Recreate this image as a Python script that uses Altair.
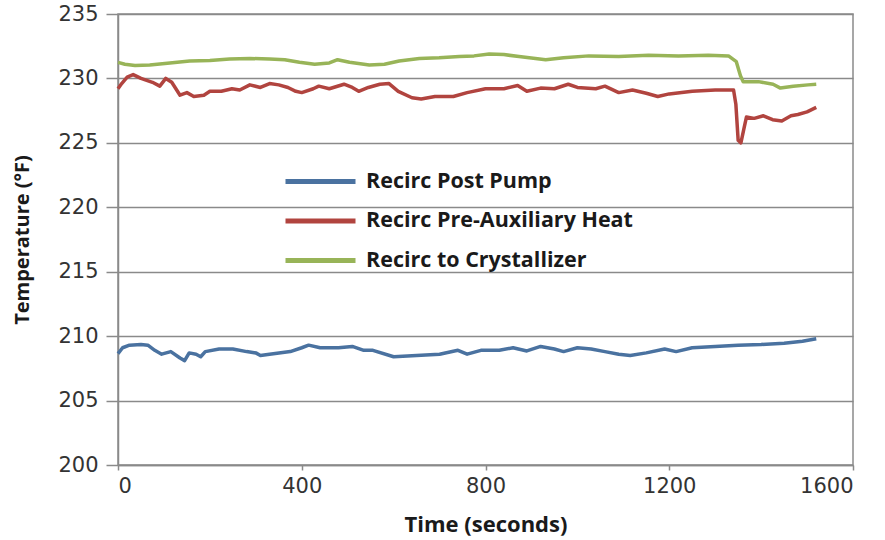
import altair as alt
import pandas as pd

series_names = ["Recirc Post Pump", "Recirc Pre-Auxiliary Heat", "Recirc to Crystallizer"]
series_colors = ["#4A72A0", "#B1443F", "#98B458"]

post_pump_t = [0, 10, 25, 50, 65, 80, 95, 115, 135, 145, 155, 170, 180, 190, 220, 250, 280, 300, 310, 330,
               375, 400, 415, 440, 480, 510, 535, 555, 600, 650, 700, 740, 760, 790, 830, 860, 890, 920, 950,
               970, 1000, 1030, 1060, 1090, 1115, 1150, 1190, 1215, 1250, 1300, 1350, 1400, 1450, 1490, 1520]
post_pump_v = [208.65, 209.1, 209.3, 209.35, 209.3, 208.9, 208.6, 208.8, 208.3, 208.1, 208.7, 208.6, 208.4,
               208.8, 209.0, 209.0, 208.8, 208.7, 208.5, 208.6, 208.8, 209.1, 209.3, 209.1, 209.1, 209.2,
               208.9, 208.9, 208.4, 208.5, 208.6, 208.9, 208.6, 208.9, 208.9, 209.1, 208.85, 209.2, 209.0,
               208.8, 209.1, 209.0, 208.8, 208.6, 208.5, 208.7, 209.0, 208.8, 209.1, 209.2, 209.3, 209.35,
               209.45, 209.6, 209.8]

pre_aux_t = [0, 8, 20, 33, 50, 75, 91, 104, 117, 135, 150, 165, 187, 200, 225, 248, 265, 287, 310, 330, 350,
             370, 387, 400, 425, 437, 460, 492, 510, 524, 545, 570, 590, 610, 640, 660, 690, 730, 760, 800,
             840, 870, 890, 920, 950, 980, 1000, 1040, 1060, 1090, 1120, 1150, 1175, 1200, 1250, 1300, 1340,
             1345, 1350, 1356, 1362, 1368, 1385, 1405, 1425, 1445, 1465, 1480, 1500, 1520]
pre_aux_v = [229.2, 229.6, 230.1, 230.3, 230.0, 229.7, 229.4, 230.0, 229.7, 228.7, 228.9, 228.6, 228.7, 229.0,
             229.0, 229.2, 229.1, 229.5, 229.3, 229.6, 229.5, 229.3, 229.0, 228.9, 229.2, 229.4, 229.2,
             229.55, 229.3, 229.0, 229.3, 229.55, 229.6, 229.0, 228.5, 228.4, 228.6, 228.6, 228.9, 229.2,
             229.2, 229.45, 229.0, 229.25, 229.2, 229.55, 229.3, 229.2, 229.4, 228.9, 229.1, 228.85, 228.6,
             228.8, 229.0, 229.1, 229.1, 228.0, 225.2, 225.0, 226.0, 227.0, 226.9, 227.1, 226.8, 226.7,
             227.1, 227.2, 227.4, 227.75]

cryst_t = [0, 15, 37, 69, 113, 156, 200, 243, 287, 330, 363, 395, 428, 460, 478, 504, 547, 580, 612, 656, 699,
           743, 775, 808, 840, 873, 931, 970, 1025, 1090, 1155, 1220, 1285, 1329, 1346, 1355, 1361, 1394,
           1426, 1442, 1470, 1502, 1520]
cryst_v = [231.25, 231.1, 231.0, 231.05, 231.2, 231.35, 231.4, 231.5, 231.55, 231.5, 231.45, 231.25, 231.1,
           231.2, 231.45, 231.25, 231.05, 231.1, 231.35, 231.55, 231.6, 231.7, 231.75, 231.9, 231.85, 231.7,
           231.45, 231.6, 231.75, 231.7, 231.8, 231.75, 231.8, 231.75, 231.3, 230.2, 229.75, 229.75, 229.55,
           229.25, 229.4, 229.5, 229.55]

x_ticks = [0, 400, 800, 1200, 1600]
y_ticks = [200, 205, 210, 215, 220, 225, 230, 235]

frames = []
for name, ts, vs in zip(series_names, [post_pump_t, pre_aux_t, cryst_t], [post_pump_v, pre_aux_v, cryst_v]):
    frames.append(pd.DataFrame({"time": ts, "temp": vs, "series": name}))
df = pd.concat(frames, ignore_index=True)

FONT = "Open Sans"
TICK_FONT = "DejaVu Sans"

chart = alt.Chart(df).mark_line(strokeWidth=3.5, strokeJoin="round").encode(
    x=alt.X("time:Q", scale=alt.Scale(domain=[0, 1600], nice=False),
            axis=alt.Axis(values=x_ticks, format="d", title="Time (seconds)", grid=False,
                          tickSize=5, labelPadding=5, titlePadding=18, titleFontSize=22)),
    y=alt.Y("temp:Q", scale=alt.Scale(domain=[200, 235], nice=False, zero=False),
            axis=alt.Axis(values=y_ticks, format="d", title="Temperature (°F)",
                          tickSize=12, labelPadding=8, titlePadding=25, titleFontSize=20)),
    color=alt.Color("series:N", scale=alt.Scale(domain=series_names, range=series_colors),
                    sort=series_names,
                    legend=alt.Legend(title=None, orient="none", legendX=165, legendY=151,
                                      symbolType="M-1,0L4,0", symbolSize=784, symbolStrokeWidth=5,
                                      labelFontSize=21.5, labelFontWeight="bold", labelColor="#1a1a1a",
                                      labelFont=FONT, rowPadding=12.5, labelOffset=50, labelLimit=500)),
    detail="series:N",
).properties(
    width=735, height=451,
    autosize=alt.AutoSizeParams(type="none"),
    padding={"left": 118, "top": 14, "right": 32, "bottom": 75},
).configure_view(
    stroke="#8a8a8a", strokeWidth=1.5
).configure_axis(
    labelFont=TICK_FONT, titleFont=FONT, labelFontSize=21,
    labelColor="#333333", titleColor="#1a1a1a", titleFontWeight="bold",
    domainColor="#8a8a8a", domainWidth=1.5, tickColor="#8a8a8a", tickWidth=1.5,
    gridColor="#8a8a8a", gridWidth=1.5, gridOpacity=1,
)

chart.save("out.html", embed_options={"renderer": "svg", "actions": False})
